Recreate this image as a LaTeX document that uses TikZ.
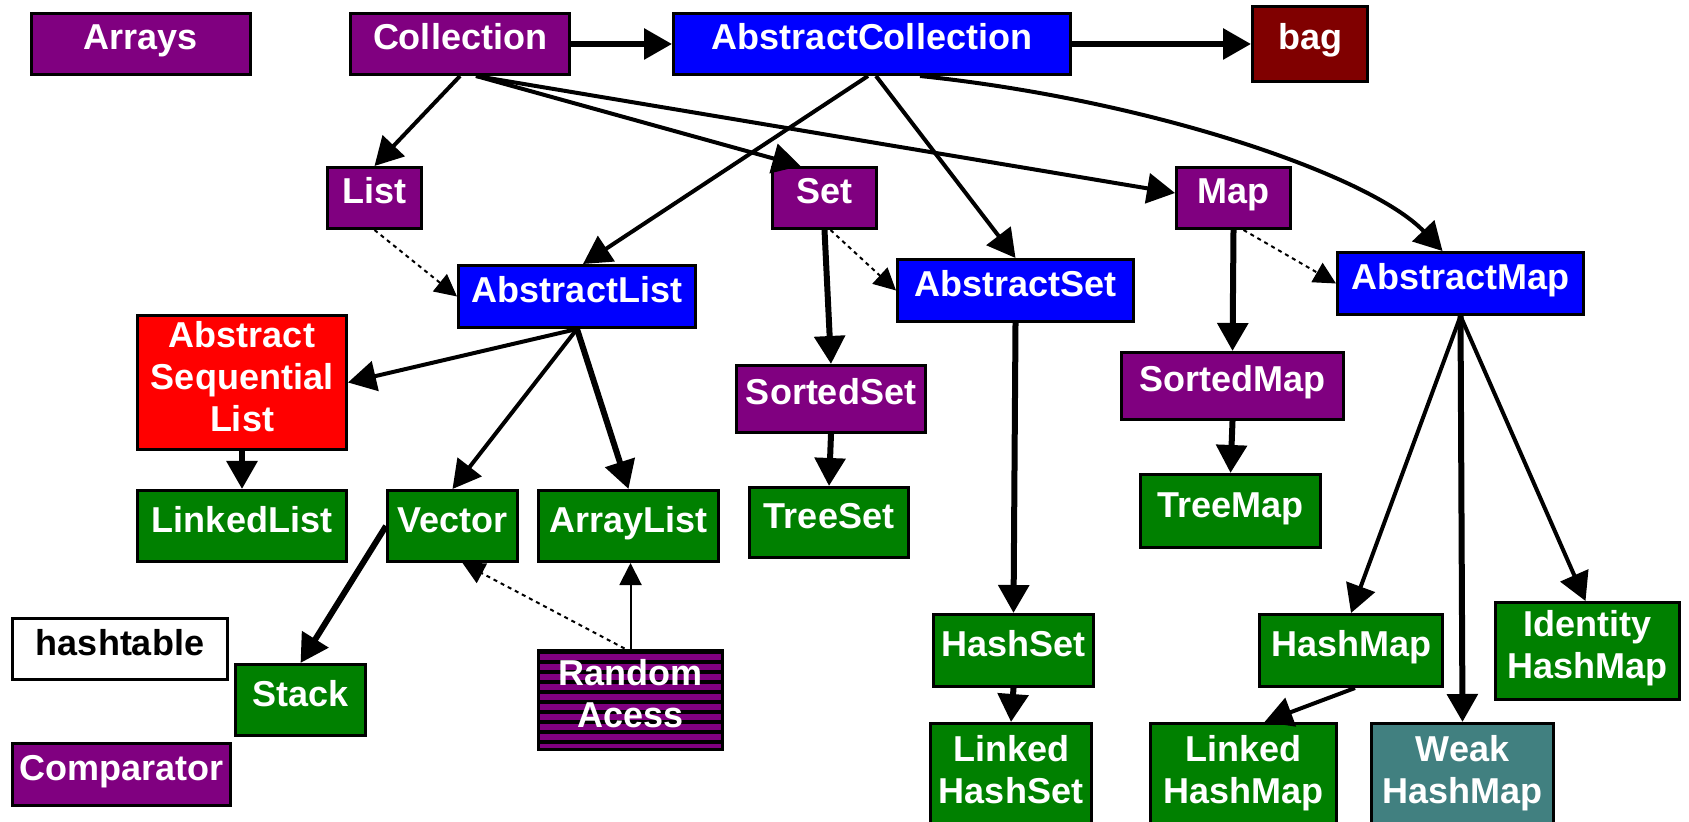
\documentclass[tikz,border=0pt]{standalone}
\usepackage{fontspec}
\setmainfont{Liberation Sans}
\usetikzlibrary{arrows.meta,patterns.meta}

\definecolor{jpurple}{RGB}{128,0,128}
\definecolor{jblue}{RGB}{0,0,255}
\definecolor{jred}{RGB}{255,0,0}
\definecolor{jgreen}{RGB}{0,128,0}
\definecolor{jmaroon}{RGB}{128,0,0}
\definecolor{jteal}{RGB}{65,128,128}
\newcommand\clsfont{\fontsize{18}{21}\selectfont\bfseries}

\begin{document}
\begin{tikzpicture}[x=0.5pt,y=-0.5pt,
    cls2/.style={draw, line width=1.5pt, text=white, font=\clsfont, align=center,
                inner sep=0pt, text depth=6.5pt},
    cls/.style={cls2, text height=12.5pt},
    isa/.style={line width=3pt, -{Triangle[length=14pt,width=15pt]}},
    uses/.style={line width=2pt, -{Triangle[length=14pt,width=15pt]}},
    thinuse/.style={line width=1pt, -{Triangle[length=11pt,width=11pt]}},
    impl/.style={line width=1pt, dash pattern=on 2pt off 2pt, -{Triangle[length=11pt,width=11pt]}}]
    \useasboundingbox (0,0) rectangle (1689,822);
    \clip (0,0) rectangle (1689,822); % bottom row runs off the page
    % top row
    \node[cls, fill=jpurple, minimum width=109.5pt, minimum height=30.5pt] (Arrays) at (141,44) {Arrays};
    \node[cls, fill=jpurple, minimum width=109.5pt, minimum height=30.5pt] (Collection) at (460,44) {Collection};
    \node[cls, fill=jblue, minimum width=198.5pt, minimum height=30.5pt] (AbstractCollection) at (872,44) {AbstractCollection};
    \node[cls, fill=jmaroon, minimum width=57.5pt, minimum height=37.5pt] (bag) at (1310,44) {bag};
    % interfaces
    \node[cls, fill=jpurple, minimum width=47pt, minimum height=30.5pt] (List) at (374.5,198) {List};
    \node[cls, fill=jpurple, minimum width=52pt, minimum height=30.5pt] (Set) at (824.5,198) {Set};
    \node[cls, fill=jpurple, minimum width=57pt, minimum height=30.5pt] (Map) at (1233.5,198) {Map};
    % abstract classes
    \node[cls, fill=jblue, minimum width=118.5pt, minimum height=31pt] (AbstractList) at (577,296.5) {AbstractList};
    \node[cls, fill=jblue, minimum width=118pt, minimum height=31pt] (AbstractSet) at (1015.5,290.5) {AbstractSet};
    \node[cls, fill=jblue, minimum width=123pt, minimum height=31pt] (AbstractMap) at (1460.5,283.5) {AbstractMap};
    \node[cls2, fill=jred, minimum width=104.5pt, minimum height=67pt] (AbstractSequentialList) at (242,382.5) {Abstract\\Sequential\\List};
    \node[cls, fill=jpurple, minimum width=94.5pt, minimum height=33.5pt] (SortedSet) at (831,399) {SortedSet};
    \node[cls, fill=jpurple, minimum width=111pt, minimum height=33.5pt] (SortedMap) at (1232.5,386) {SortedMap};
    % concrete classes
    \node[cls, fill=jgreen, minimum width=104.5pt, minimum height=35.5pt] (LinkedList) at (242,526) {LinkedList};
    \node[cls, fill=jgreen, minimum width=65pt, minimum height=35.5pt] (Vector) at (452.5,526) {Vector};
    \node[cls, fill=jgreen, minimum width=90pt, minimum height=35.5pt] (ArrayList) at (628.5,526) {ArrayList};
    \node[cls, fill=jgreen, minimum width=79.5pt, minimum height=35pt] (TreeSet) at (829,522.5) {TreeSet};
    \node[cls, fill=jgreen, minimum width=90pt, minimum height=36.5pt] (TreeMap) at (1230.5,511) {TreeMap};
    \node[cls, fill=white, text=black, minimum width=107.5pt, minimum height=30.5pt] (hashtable) at (120,649) {hashtable};
    \node[cls, fill=jgreen, minimum width=65pt, minimum height=35.5pt] (Stack) at (300.5,700) {Stack};
    \node[cls, fill=jpurple, minimum width=109pt, minimum height=31pt] (Comparator) at (121.5,774.5) {Comparator};
    \node[cls2, preaction={fill=jpurple}, pattern={Lines[angle=0,distance=5pt,line width=2pt]}, pattern color=black,
          minimum width=92pt, minimum height=49.5pt] (RandomAcess) at (630.5,700) {Random\\Acess};
    \node[cls, fill=jgreen, minimum width=80pt, minimum height=36pt] (HashSet) at (1013.5,650.5) {HashSet};
    \node[cls2, fill=jgreen, minimum width=80.5pt, minimum height=52.5pt] (LinkedHashSet) at (1011,776) {Linked\\HashSet};
    \node[cls, fill=jgreen, minimum width=91.5pt, minimum height=36pt] (HashMap) at (1351,650.5) {HashMap};
    \node[cls2, fill=jgreen, minimum width=92pt, minimum height=48.5pt] (IdentityHashMap) at (1587.5,651) {Identity\\HashMap};
    \node[cls2, fill=jgreen, minimum width=93pt, minimum height=52.5pt] (LinkedHashMap) at (1243.5,776) {Linked\\HashMap};
    \node[cls2, fill=jteal, minimum width=91pt, minimum height=52.5pt] (WeakHashMap) at (1462.5,776) {Weak\\HashMap};

    % connectors
    \draw[isa] (Collection.east) -- (AbstractCollection.west);
    \draw[isa] (AbstractCollection.east) -- (bag.west);
    \draw[uses] (Collection.south) -- (List.north);
    \draw[uses] ([xshift=8pt]Collection.south) -- ([xshift=-12pt]Set.north);
    \draw[uses] ([xshift=8pt]Collection.south) -- ([yshift=2.5pt]Map.west);
    \draw[uses] ([xshift=-2pt]AbstractCollection.south) -- ([xshift=3pt]AbstractList.north);
    \draw[uses] ([xshift=2pt]AbstractCollection.south) -- (AbstractSet.north);
    \draw[uses] ([xshift=24pt]AbstractCollection.south) .. controls (1150,100) and (1370,175) .. ([xshift=-9pt]AbstractMap.north);
    \draw[impl] (List.south) -- (AbstractList.west);
    \draw[impl] ([xshift=3pt]Set.south) -- (AbstractSet.west);
    \draw[impl] ([xshift=5pt]Map.south) -- (AbstractMap.west);
    \draw[isa] (Set.south) -- (SortedSet.north);
    \draw[isa] (Map.south) -- (SortedMap.north);
    \draw[uses] (AbstractList.south) -- (AbstractSequentialList.east);
    \draw[uses] (AbstractList.south) -- (Vector.north);
    \draw[isa] (AbstractList.south) -- (ArrayList.north);
    \draw[isa] (AbstractSequentialList.south) -- (LinkedList.north);
    \draw[isa] (SortedSet.south) -- (TreeSet.north);
    \draw[isa] (SortedMap.south) -- (TreeMap.north);
    \draw[isa] (AbstractSet.south) -- (HashSet.north);
    \draw[isa] (HashSet.south) -- (LinkedHashSet.north);
    \draw[uses] (AbstractMap.south) -- (HashMap.north);
    \draw[isa] (AbstractMap.south) -- (WeakHashMap.north);
    \draw[uses] (AbstractMap.south) -- ([xshift=-1pt]IdentityHashMap.north);
    \draw[uses] ([xshift=2pt]HashMap.south) -- ([xshift=10.5pt]LinkedHashMap.north);
    \draw[isa] (Vector.west) -- (Stack.north);
    \draw[impl] ([xshift=-3pt]RandomAcess.north) -- ([xshift=5pt]Vector.south);
    \draw[thinuse] (RandomAcess.north) -- (RandomAcess.north |- ArrayList.south);
\end{tikzpicture}
\end{document}
